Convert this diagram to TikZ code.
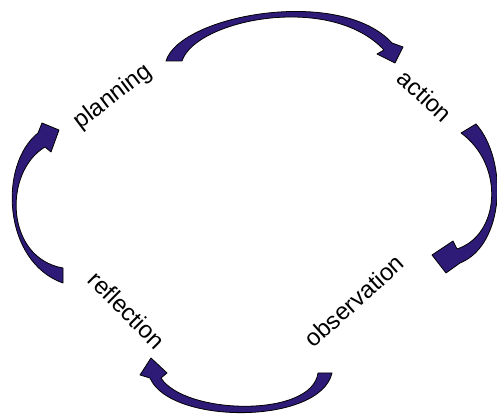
\documentclass[tikz,border=0pt]{standalone}
\usepackage{fontspec}
\setmainfont{Liberation Sans}
\definecolor{cycleblue}{RGB}{46,27,120}
\tikzset{
  phase/.style={font=\fontsize{12}{14}\selectfont, inner sep=0pt},
  bigarrow/.style={fill=cycleblue, draw=black, line width=0.4pt, line join=round}
}
\begin{document}
\begin{tikzpicture}[x=0.5pt, y=-0.5pt]
\useasboundingbox (0,0) rectangle (497,415);
\node[phase, rotate=37] (planning) at (113,97) {planning};
\node[phase, rotate=-43] (action) at (425,96) {action};
\node[phase, rotate=42] (observation) at (354,301) {observation};
\node[phase, rotate=-45] (reflection) at (127,310) {reflection};
% planning -> action
\draw[bigarrow] (166,61) .. controls (180,15) and (340,-14) .. (392,43) -- (403,47) -- (395,63) -- (377,54) -- (384,50) .. controls (330,-8) and (195,20) .. (182,61) -- cycle;
% action -> observation
\draw[bigarrow] (476,124) .. controls (508,160) and (505,245) .. (460,263) -- (446,273) -- (432,255) -- (453,241) -- (457,249) .. controls (500,235) and (505,165) .. (461,133) -- cycle;
% observation -> reflection
\draw[bigarrow] (332,373) .. controls (320,425) and (170,425) .. (150,378) -- (140,375) -- (151,358) -- (167,373) -- (161,378) .. controls (185,415) and (312,418) .. (318,373) -- cycle;
% reflection -> planning
\draw[bigarrow] (63,283) .. controls (3,262) and (-2,165) .. (38,133) -- (42,123) -- (59,130) -- (51,152) -- (45,147) .. controls (3,172) and (5,258) .. (63,268) -- cycle;
\end{tikzpicture}
\end{document}
